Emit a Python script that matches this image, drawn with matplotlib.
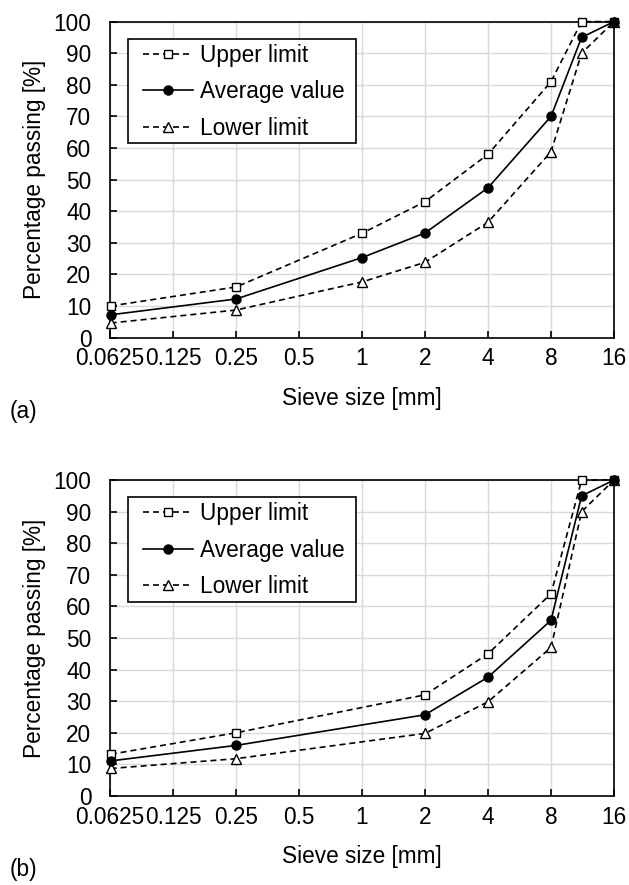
import matplotlib
matplotlib.use("Agg")
import matplotlib.pyplot as plt
from matplotlib.ticker import FixedLocator, NullLocator
from matplotlib.patches import Rectangle

plt.rcParams['font.family'] = ['Liberation Sans', 'DejaVu Sans']

# Panel (a)
sieve_a = [0.063, 0.25, 1, 2, 4, 8, 11.2, 16]
upper_a = [10, 16, 33, 43, 58, 81, 100, 100]
avg_a = [7.2, 12.2, 25.3, 33.1, 47.4, 70, 95, 100]
lower_a = [4.6, 8.7, 17.6, 23.8, 36.5, 58.8, 90, 100]

# Panel (b)
sieve_b = [0.063, 0.25, 2, 4, 8, 11.2, 16]
upper_b = [13.2, 20, 32, 45, 64, 100, 100]
avg_b = [11.1, 16, 25.7, 37.6, 55.6, 95, 100]
lower_b = [8.7, 11.8, 19.8, 29.8, 47, 90, 100]

xticks = [0.0625, 0.125, 0.25, 0.5, 1, 2, 4, 8, 16]
xticklabels = ["0.0625", "0.125", "0.25", "0.5", "1", "2", "4", "8", "16"]
yticks = list(range(0, 101, 10))

FS = 16.3
fig = plt.figure(figsize=(6.29, 8.85), dpi=100)

def panel(rect, x, up, av, lo, tag, tag_y):
    ax = fig.add_axes(rect)
    dash = (0, (3.6, 2.4))
    ax.plot(x, up, color='black', lw=1.2, linestyle=dash, marker='s', ms=6.3,
            mfc='white', mec='black', mew=1.0, clip_on=False, zorder=3,
            label='Upper limit')
    ax.plot(x, av, color='black', lw=1.2, linestyle='-', marker='o', ms=6.5,
            mfc='black', mec='black', clip_on=False, zorder=4,
            label='Average value')
    ax.plot(x, lo, color='black', lw=1.2, linestyle=dash, marker='^', ms=6.5,
            mfc='white', mec='black', mew=1.0, clip_on=False, zorder=3,
            label='Lower limit')
    ax.set_xscale('log', base=2)
    ax.set_xlim(0.0625, 16)
    ax.set_ylim(0, 100)
    ax.xaxis.set_major_locator(FixedLocator(xticks))
    ax.xaxis.set_minor_locator(NullLocator())
    ax.set_xticklabels(xticklabels)
    ax.set_yticks(yticks)
    ax.grid(True, color='#d9d9d9', lw=1.0, zorder=0)
    ax.set_axisbelow(True)
    for s in ax.spines.values():
        s.set_linewidth(1.2)
        s.set_color('black')
    ax.tick_params(axis='both', direction='in', length=5, width=1.2,
                   labelsize=FS, colors='black')
    ax.tick_params(axis='x', pad=7)
    ax.tick_params(axis='y', pad=13.5)
    ax.set_xlabel('Sieve size [mm]', fontsize=FS, labelpad=12)
    ax.set_ylabel('Percentage passing [%]', fontsize=FS, labelpad=5)
    # legend frame (drawn separately to match the reference box)
    frame = Rectangle((0.0363, 0.6155), 0.4517, 0.3295, transform=ax.transAxes,
                      facecolor='white', edgecolor='black', lw=1.2,
                      zorder=5, clip_on=False)
    ax.add_patch(frame)
    leg = ax.legend(loc='upper left', bbox_to_anchor=(0.066, 0.93),
                    fontsize=FS, frameon=False, borderaxespad=0,
                    handlelength=2.2, handletextpad=0.3, labelspacing=0.6,
                    borderpad=0)
    leg.set_zorder(6)
    fig.text(0.016, tag_y, tag, fontsize=FS, va='center', ha='left')
    return ax

panel([0.1749, 0.6186, 0.8013, 0.357], sieve_a, upper_a, avg_a, lower_a, '(a)', 0.535)
panel([0.1749, 0.1006, 0.8013, 0.357], sieve_b, upper_b, avg_b, lower_b, '(b)', 0.017)

fig.savefig('out.png', dpi=100)
